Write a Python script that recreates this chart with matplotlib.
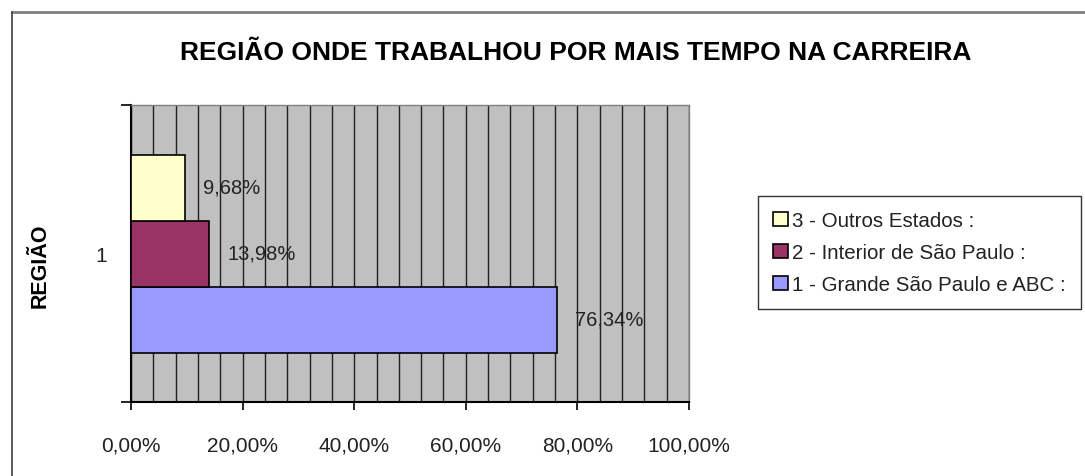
import numpy as np
import matplotlib
matplotlib.use('Agg')
import matplotlib.pyplot as plt
from matplotlib.lines import Line2D

plt.rcParams['font.family'] = ['Liberation Sans', 'DejaVu Sans']

# dados
regioes = ['1 - Grande São Paulo e ABC :', '2 - Interior de São Paulo :', '3 - Outros Estados :']
valores = [76.34, 13.98, 9.68]
cores = ['#9999FF', '#993366', '#FFFFCC']
pos = [-1, 0, 1]
xticks = [0, 20, 40, 60, 80, 100]

fig = plt.figure(figsize=(10.85, 4.77), dpi=100)
ax = fig.add_axes([131/1085, 74/477, 558/1085, 297/477])
ax.set_facecolor('#C0C0C0')

barras = []
for p, v, c, r in zip(pos, valores, cores, regioes):
    b = ax.barh(p, v, height=1.0, color=c, edgecolor='black', linewidth=1.2, label=r, zorder=3)
    barras.append(b)
    ax.annotate(('%.2f%%' % v).replace('.', ','), (v, p), xytext=(13, 0),
                textcoords='offset points', ha='left', va='center',
                fontsize=14.5, color='#222222', zorder=4)

ax.set_xlim(0, 100)
ax.set_ylim(-2.25, 2.25)

# grade vertical a cada 4%
ax.set_xticks(np.arange(0, 101, 4), minor=True)
ax.grid(True, which='both', axis='x', color='#202020', linewidth=1.0, zorder=1)
ax.set_axisbelow(True)
ax.set_xticks(xticks)
ax.set_xticklabels([('%.2f%%' % t).replace('.', ',') for t in xticks])
ax.tick_params(axis='x', which='major', length=6, width=1.2, color='black',
               labelsize=15, labelcolor='#222222', pad=18)
ax.tick_params(axis='x', which='minor', length=0)

ax.set_yticks([0])
ax.set_yticklabels(['1'])
ax.set_yticks([-2.25, 2.25], minor=True)
ax.tick_params(axis='y', which='major', length=0, labelsize=15, labelcolor='#222222', pad=17)
ax.tick_params(axis='y', which='minor', length=7, width=1.2, color='black')

for s in ['top', 'right']:
    ax.spines[s].set_color('#808080')
    ax.spines[s].set_linewidth(1.0)
for s in ['left', 'bottom']:
    ax.spines[s].set_color('black')
    ax.spines[s].set_linewidth(1.5)

fig.text(576/1085, 1 - 53/477, 'REGIÃO ONDE TRABALHOU POR MAIS TEMPO NA CARREIRA',
         ha='center', va='center', fontsize=19, fontweight='bold', color='black')
fig.text(40/1085, 1 - 266/477, 'REGIÃO', rotation=90, ha='center', va='center',
         fontsize=15.5, fontweight='bold', color='black')

leg = fig.legend(handles=barras[::-1], labels=regioes[::-1], loc='upper left',
                 bbox_to_anchor=(758/1085, 280/477), bbox_transform=fig.transFigure,
                 borderaxespad=0, fontsize=14.8, frameon=True, fancybox=False,
                 handlelength=0.7, handleheight=0.7, handletextpad=0.2,
                 labelspacing=0.62, borderpad=0.75)
leg.get_frame().set_edgecolor('black')
leg.get_frame().set_linewidth(1.0)
for t in leg.get_texts():
    t.set_color('#222222')

# moldura externa
fig.add_artist(Line2D([12/1085, 1], [1 - 13/477, 1 - 13/477], transform=fig.transFigure,
                      color='#808080', linewidth=2))
fig.add_artist(Line2D([12/1085, 12/1085], [0, 1 - 13/477], transform=fig.transFigure,
                      color='#404040', linewidth=1.2))

fig.savefig('out.png', dpi=100, facecolor='white')
